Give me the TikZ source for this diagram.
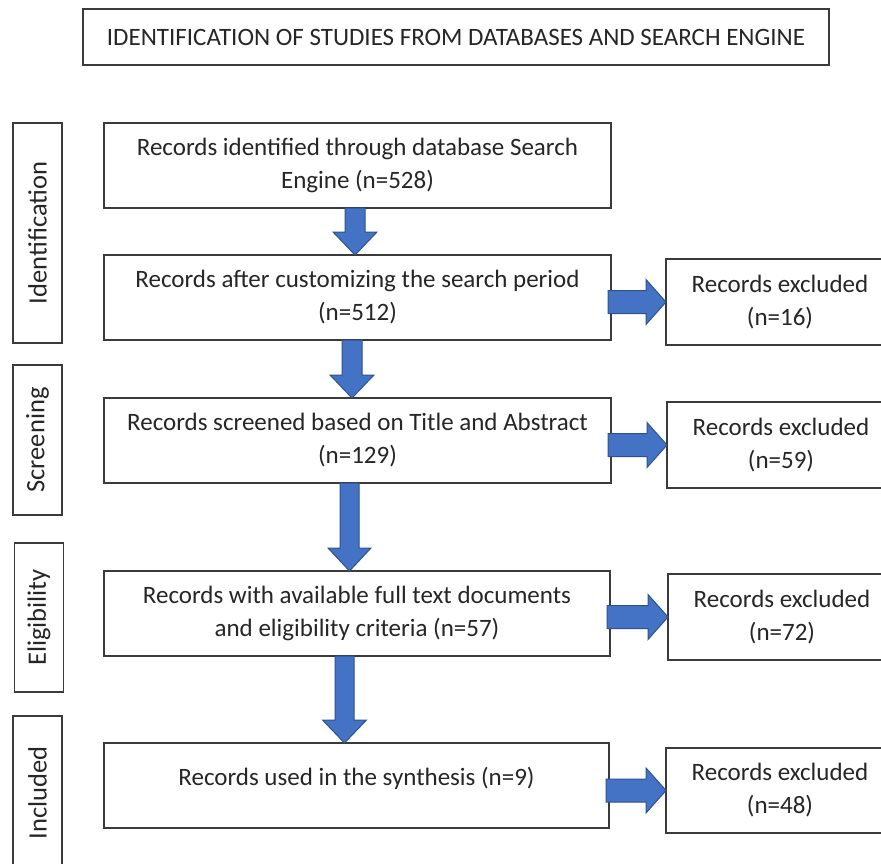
\documentclass[tikz,border=0pt]{standalone}
\usepackage{fontspec}
\setmainfont{Carlito}
\usetikzlibrary{calc}

\definecolor{arrowblue}{HTML}{4472C4}
\definecolor{arrowedge}{HTML}{2F528F}
\definecolor{frameline}{HTML}{3A3A3A}
\definecolor{inktext}{HTML}{262626}

\tikzset{
  frame/.style={draw=frameline, line width=1.3pt, fill=white, inner sep=0pt,
    outer sep=0pt, align=center, text=inktext, font=\fontsize{25}{33}\selectfont},
  mainbox/.style={frame, anchor=north west, minimum width=507pt, minimum height=85pt},
  exbox/.style={frame, anchor=north west, minimum width=228pt, minimum height=86pt},
  stagebox/.style={frame, anchor=center, rotate=90, minimum height=49pt,
    font=\fontsize{26.5}{33}\selectfont},
  blk/.style={fill=arrowblue, draw=arrowedge, line width=1pt, line join=miter},
}

% block arrow pointing down: from node, to node, x centre, shaft half width, head half width
\newcommand\downblk[5]{%
  \path[blk] let \p1=(#1.south), \p2=(#2.north) in
    (#3pt-#4pt,\y1) -- (#3pt+#4pt,\y1) -- (#3pt+#4pt,\y2+23pt) -- (#3pt+#5pt,\y2+23pt)
    -- (#3pt,\y2) -- (#3pt-#5pt,\y2+23pt) -- (#3pt-#4pt,\y2+23pt) -- cycle;}

% block arrow pointing right, aimed at the middle of the target node
\newcommand\rightblk[2]{%
  \path[blk] let \p1=(#1.east), \p2=(#2.west) in
    (\x1-3pt,\y2+11.5pt) -- (\x2-20pt,\y2+11.5pt) -- (\x2-20pt,\y2+22.5pt) -- (\x2,\y2)
    -- (\x2-20pt,\y2-22.5pt) -- (\x2-20pt,\y2-11.5pt) -- (\x1-3pt,\y2-11.5pt) -- cycle;}

\begin{document}
\begin{tikzpicture}[x=1pt, y=1pt]
\fill[white] (0,0) rectangle (881,-864);
\useasboundingbox (0,0) rectangle (881,-864);

% heading
\node[frame, anchor=north west, minimum width=746pt, minimum height=56pt] (title) at (83,-9)
  {IDENTIFICATION OF STUDIES FROM DATABASES AND SEARCH ENGINE};

% stage labels
\node[stagebox, minimum width=220pt] (sIdent) at (37.5,-233) {Identification};
\node[stagebox, minimum width=150pt] (sScreen) at (37.5,-440) {Screening};
\node[stagebox, minimum width=149pt] (sElig) at (39,-617.5) {Eligibility};
\node[stagebox, minimum width=154pt] (sIncl) at (37.5,-793) {Included};

% main flow
\node[mainbox] (b1) at (104,-123) {Records identified through database Search\\Engine (n=528)};
\node[mainbox] (b2) at (104,-255) {Records after customizing the search period\\(n=512)};
\node[mainbox] (b3) at (104,-398) {Records screened based on Title and Abstract\\(n=129)};
\node[mainbox, minimum width=506pt] (b4) at (104,-571) {Records with available full text documents\\and eligibility criteria (n=57)};
\node[mainbox, minimum width=505pt] (b5) at (104,-743) {};
\node[font=\fontsize{25}{33}\selectfont, text=inktext, inner sep=0pt, anchor=base] (b5text) at (b5.center)
  {Records used in the synthesis (n=9)};

% exclusions
\node[exbox] (e1) at (666,-259) {Records excluded\\(n=16)};
\node[exbox] (e2) at (667,-402) {Records excluded\\(n=59)};
\node[exbox] (e3) at (668,-574) {Records excluded\\(n=72)};
\node[exbox, minimum height=85pt] (e4) at (666,-748) {Records excluded\\(n=48)};

% connectors
\downblk{b1}{b2}{355}{10}{22}
\downblk{b2}{b3}{352}{10}{22}
\downblk{b3}{b4}{349.5}{9.5}{21.5}
\downblk{b4}{b5}{344.5}{9.5}{22}

\rightblk{b2}{e1}
\rightblk{b3}{e2}
\rightblk{b4}{e3}
\rightblk{b5}{e4}
\end{tikzpicture}
\end{document}
